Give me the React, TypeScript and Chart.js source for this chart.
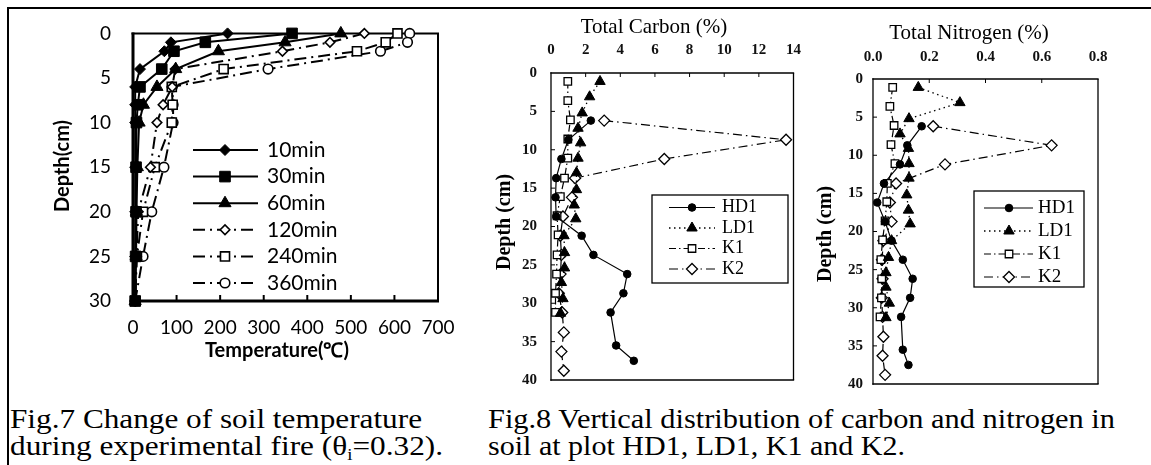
import React, { useEffect, useLayoutEffect, useRef } from 'react';
import { Chart, registerables } from 'chart.js';

Chart.register(...registerables);

const SERIF = '"Liberation Serif", "Times New Roman", serif';
const SANS = 'Lato, "Open Sans", sans-serif';

// ---------------- Fig.7 data (temperature vs depth) ----------------
const TEMP_DEPTHS = [0, 1, 2, 4, 6, 8, 10, 15, 20, 25, 30];
const TEMP_10MIN = [217, 87, 72, 16, 5, 5, 5, 5, 5, 5, 5];
const TEMP_30MIN = [365, 166, 94, 66, 16, 11, 8, 7, 7, 6, 5];
const TEMP_60MIN = [477, 349, 196, 98, 55, 24, 14, 10, 8, 7, 5];
const TEMP_120MIN = [531, 452, 343, 97, 90, 69, 55, 40, 12, 8, 5];
const TEMP_240MIN = [607, 580, 514, 208, 89, 91, 89, 50, 23, 9, 5];
const TEMP_360MIN = [635, 630, 568, 310, 90, 92, 92, 71, 43, 23, 5];
const TEMP_LABELS = ['10min', '30min', '60min', '120min', '240min', '360min'];
const TEMP_VALUES = [TEMP_10MIN, TEMP_30MIN, TEMP_60MIN, TEMP_120MIN, TEMP_240MIN, TEMP_360MIN];

// ---------------- Fig.8 data (carbon / nitrogen vs depth) ----------------
const SOIL_LABELS = ['HD1', 'LD1', 'K1', 'K2'];
const HD1_DEPTHS = [6.2, 8.7, 11.2, 13.7, 16.2, 18.7, 21.2, 23.7, 26.2, 28.7, 31.2, 35.5, 37.5];
const HD1_CARBON = [2.3, 1.0, 0.6, 0.3, 0.26, 0.3, 1.77, 2.45, 4.4, 4.18, 3.44, 3.76, 4.78];
const HD1_NITROGEN = [0.173, 0.122, 0.096, 0.039, 0.015, 0.043, 0.066, 0.106, 0.141, 0.132, 0.1, 0.106, 0.126];
const LD1_DEPTHS = [1.1, 3.1, 5.2, 7.2, 9.1, 11.1, 13.0, 15.2, 17.2, 19.0, 21.2, 23.4, 25.4, 27.3, 29.4, 31.3];
const LD1_CARBON = [2.83, 2.23, 1.8, 1.56, 1.71, 1.56, 1.47, 1.47, 1.34, 1.43, 0.75, 0.78, 0.78, 0.6, 0.69, 0.55];
const LD1_NITROGEN = [0.161, 0.309, 0.128, 0.096, 0.126, 0.128, 0.128, 0.12, 0.126, 0.132, 0.066, 0.055, 0.046, 0.046, 0.058, 0.046];
const K1_DEPTHS = [1.1, 3.6, 6.1, 8.6, 11.1, 13.7, 16.1, 18.6, 21.1, 23.7, 26.2, 28.7, 31.2];
const K1_CARBON = [0.97, 0.97, 1.12, 0.97, 0.97, 0.78, 0.54, 0.35, 0.41, 0.35, 0.32, 0.26, 0.26];
const K1_NITROGEN = [0.07, 0.06, 0.075, 0.064, 0.078, 0.051, 0.049, 0.043, 0.034, 0.028, 0.031, 0.03, 0.025];
const K2_DEPTHS = [6.2, 8.7, 11.2, 13.7, 16.2, 18.7, 21.2, 23.7, 26.2, 28.7, 31.2, 33.8, 36.3, 38.8];
const K2_CARBON = [3.07, 13.57, 6.54, 1.39, 1.21, 0.69, 0.54, 0.6, 0.55, 0.45, 0.65, 0.74, 0.6, 0.74];
const K2_NITROGEN = [0.214, 0.635, 0.256, 0.082, 0.06, 0.066, 0.037, 0.032, 0.034, 0.031, 0.034, 0.037, 0.034, 0.043];

const SOIL_DEPTHS = [HD1_DEPTHS, LD1_DEPTHS, K1_DEPTHS, K2_DEPTHS];
const CARBON_VALUES = [HD1_CARBON, LD1_CARBON, K1_CARBON, K2_CARBON];
const NITROGEN_VALUES = [HD1_NITROGEN, LD1_NITROGEN, K1_NITROGEN, K2_NITROGEN];

// ---------------- styles ----------------
type MStyle = { pointStyle: string; radius: number; fill: string; dash: number[]; lw: number; bw: number };
const TEMP_STYLES: MStyle[] = [
  { pointStyle: 'rectRot', radius: 5.5, fill: '#000', dash: [], lw: 2, bw: 1 },
  { pointStyle: 'rect', radius: 7.5, fill: '#000', dash: [], lw: 2, bw: 1 },
  { pointStyle: 'triangle', radius: 7, fill: '#000', dash: [], lw: 2, bw: 1 },
  { pointStyle: 'rectRot', radius: 4.8, fill: '#fff', dash: [12, 5, 2, 5], lw: 2, bw: 1.6 },
  { pointStyle: 'rect', radius: 6.4, fill: '#fff', dash: [12, 5, 2, 5], lw: 2, bw: 1.6 },
  { pointStyle: 'circle', radius: 4.8, fill: '#fff', dash: [12, 5, 2, 5], lw: 2, bw: 1.6 },
];
const SOIL_STYLES: MStyle[] = [
  { pointStyle: 'circle', radius: 3.8, fill: '#000', dash: [], lw: 1.2, bw: 1 },
  { pointStyle: 'triangle', radius: 6, fill: '#000', dash: [1.5, 3.5], lw: 1.3, bw: 1 },
  { pointStyle: 'rect', radius: 5.3, fill: '#fff', dash: [7, 3, 1.5, 3], lw: 1.2, bw: 1.3 },
  { pointStyle: 'rectRot', radius: 5.5, fill: '#fff', dash: [9, 4, 1.5, 4], lw: 1.2, bw: 1.3 },
];

function marker(ctx: CanvasRenderingContext2D, s: MStyle, x: number, y: number) {
  const r = s.radius;
  ctx.save();
  ctx.setLineDash([]);
  ctx.beginPath();
  if (s.pointStyle === 'circle') ctx.arc(x, y, r, 0, Math.PI * 2);
  else if (s.pointStyle === 'rect') {
    const h = r * Math.SQRT1_2;
    ctx.rect(x - h, y - h, 2 * h, 2 * h);
  } else if (s.pointStyle === 'rectRot') {
    ctx.moveTo(x - r, y); ctx.lineTo(x, y - r); ctx.lineTo(x + r, y); ctx.lineTo(x, y + r); ctx.closePath();
  } else {
    let a = 0;
    ctx.moveTo(x + Math.sin(a) * r, y - Math.cos(a) * r);
    a += (2 * Math.PI) / 3;
    ctx.lineTo(x + Math.sin(a) * r, y - Math.cos(a) * r);
    a += (2 * Math.PI) / 3;
    ctx.lineTo(x + Math.sin(a) * r, y - Math.cos(a) * r);
    ctx.closePath();
  }
  ctx.fillStyle = s.fill;
  ctx.fill();
  ctx.lineWidth = s.bw;
  ctx.strokeStyle = '#000';
  ctx.stroke();
  ctx.restore();
}

type Annot = {
  frame: { top: number; right: number; bottom: number; left: number };
  xTicks: { values: number[]; len: number; width: number; side: 'top' | 'bottom' };
  yTicks?: { values: number[]; len: number; width: number };
  titles: { text: string; x: number; y: number; rot: number; font: string }[];
  legend: {
    box?: [number, number, number, number];
    x1: number; x2: number; xm: number; xt: number; ys: number[]; font: string;
    items: { label: string; style: MStyle }[];
  };
};

function annotPlugin(a: Annot) {
  return {
    id: 'annot',
    beforeDatasetsDraw(chart: any) {
      const ctx: CanvasRenderingContext2D = chart.ctx;
      const ca = chart.chartArea;
      ctx.save();
      ctx.strokeStyle = '#000';
      ctx.setLineDash([]);
      const seg = (x1: number, y1: number, x2: number, y2: number, w: number) => {
        ctx.lineWidth = w; ctx.beginPath(); ctx.moveTo(x1, y1); ctx.lineTo(x2, y2); ctx.stroke();
      };
      const f = a.frame;
      seg(ca.left - f.left / 2, ca.top, ca.right + f.right / 2, ca.top, f.top);
      seg(ca.right, ca.top, ca.right, ca.bottom, f.right);
      seg(ca.left - f.left / 2, ca.bottom, ca.right + f.right / 2, ca.bottom, f.bottom);
      seg(ca.left, ca.top - f.top / 2, ca.left, ca.bottom + f.bottom / 2, f.left);
      const xs = chart.scales.x;
      const ys = chart.scales.y;
      for (const v of a.xTicks.values) {
        const px = xs.getPixelForValue(v);
        if (a.xTicks.side === 'bottom') seg(px, ca.bottom, px, ca.bottom - a.xTicks.len, a.xTicks.width);
        else seg(px, ca.top, px, ca.top + a.xTicks.len, a.xTicks.width);
      }
      if (a.yTicks) {
        for (const v of a.yTicks.values) {
          const py = ys.getPixelForValue(v);
          seg(ca.left, py, ca.left + a.yTicks.len, py, a.yTicks.width);
        }
      }
      ctx.restore();
    },
    afterDraw(chart: any) {
      const ctx: CanvasRenderingContext2D = chart.ctx;
      ctx.save();
      ctx.fillStyle = '#000';
      for (const t of a.titles) {
        ctx.save();
        ctx.translate(t.x, t.y);
        ctx.rotate(t.rot);
        ctx.font = t.font;
        ctx.textAlign = 'center';
        ctx.textBaseline = 'middle';
        ctx.fillText(t.text, 0, 0);
        ctx.restore();
      }
      const L = a.legend;
      if (L.box) {
        ctx.setLineDash([]);
        ctx.lineWidth = 1.3;
        ctx.strokeStyle = '#000';
        ctx.fillStyle = '#fff';
        const [l, t, r, b] = L.box;
        ctx.fillRect(l, t, r - l, b - t);
        ctx.strokeRect(l, t, r - l, b - t);
      }
      L.items.forEach((it, i) => {
        const y = L.ys[i];
        ctx.save();
        ctx.strokeStyle = '#000';
        ctx.lineWidth = it.style.lw;
        ctx.setLineDash(it.style.dash);
        ctx.beginPath(); ctx.moveTo(L.x1, y); ctx.lineTo(L.x2, y); ctx.stroke();
        ctx.restore();
        marker(ctx, it.style, L.xm, y);
        ctx.fillStyle = '#000';
        ctx.font = L.font;
        ctx.textAlign = 'left';
        ctx.textBaseline = 'middle';
        ctx.fillText(it.label, L.xt, y);
      });
      ctx.restore();
    },
  };
}

function dataset(label: string, xs: number[], ys: number[], s: MStyle) {
  return {
    label,
    data: ys.map((d, j) => ({ x: xs[j], y: d })),
    showLine: true,
    borderColor: '#000',
    borderWidth: s.lw,
    borderDash: s.dash,
    pointStyle: s.pointStyle,
    pointRadius: s.radius,
    pointHoverRadius: s.radius,
    pointBackgroundColor: s.fill,
    pointBorderColor: '#000',
    pointBorderWidth: s.bw,
    clip: false,
    tension: 0,
  };
}

type Box = { left: number; top: number; width: number; height: number };

function buildTemp(b: Box) {
  const area = { l: 133, t: 23, r: 438, b: 301 };
  const ox = b.left, oy = b.top;
  const tickFont = { family: SANS, size: 19 };
  return {
    type: 'scatter',
    data: {
      datasets: TEMP_LABELS.map((name, i) => dataset(name, TEMP_VALUES[i], TEMP_DEPTHS, TEMP_STYLES[i])),
    },
    options: {
      responsive: false,
      animation: false,
      devicePixelRatio: 1,
      layout: { padding: { left: 0, top: area.t - oy, right: ox + b.width - area.r, bottom: 0 } },
      plugins: { legend: { display: false }, tooltip: { enabled: false } },
      events: [],
      scales: {
        x: {
          type: 'linear', position: 'bottom', min: 0, max: 700,
          ticks: { stepSize: 100, padding: 15, font: tickFont, color: '#000', maxRotation: 0, autoSkip: false },
          grid: { display: false, drawTicks: false },
          border: { display: false },
          afterFit: (s: any) => { s.height = oy + b.height - area.b; },
        },
        y: {
          type: 'linear', min: 0, max: 30, reverse: true,
          ticks: { stepSize: 5, padding: 22, font: tickFont, color: '#000', autoSkip: false },
          grid: { display: false, drawTicks: false },
          border: { display: false },
          afterFit: (s: any) => { s.width = area.l - ox; },
        },
      },
    },
    plugins: [
      annotPlugin({
        frame: { top: 2, right: 2, bottom: 3, left: 3 },
        xTicks: { values: [100, 200, 300, 400, 500, 600], len: 6, width: 2, side: 'bottom' },
        titles: [
          { text: 'Temperature(\u2103)', x: 277 - ox, y: 351 - oy, rot: 0, font: `bold 20px ${SANS}` },
          { text: 'Depth(cm)', x: 63 - ox, y: 166 - oy, rot: -Math.PI / 2, font: `bold 20px ${SANS}` },
        ],
        legend: {
          x1: 193 - ox, x2: 258 - ox, xm: 225 - ox, xt: 267 - ox,
          ys: [150, 176.6, 203.2, 229.8, 256.4, 283].map((v) => v - oy),
          font: `21px ${SANS}`,
          items: TEMP_LABELS.map((l, i) => ({ label: l, style: TEMP_STYLES[i] })),
        },
      }),
    ],
  };
}

type SoilCfg = {
  area: { l: number; t: number; r: number; b: number };
  xmax: number; xstep: number; decimals: number;
  xPad: number; yPad: number;
  values: number[][];
  xTitle: string; xTitlePos: [number, number];
  yTitlePos: [number, number];
  xTickVals: number[];
  legend: { box: [number, number, number, number]; x1: number; x2: number; xm: number; xt: number; ys: number[]; size: number };
};

function buildSoil(b: Box, c: SoilCfg) {
  const ox = b.left, oy = b.top;
  const a = c.area;
  const tickFont = { family: SERIF, size: 15, weight: 'bold' };
  return {
    type: 'scatter',
    data: {
      datasets: SOIL_LABELS.map((name, i) => dataset(name, c.values[i], SOIL_DEPTHS[i], SOIL_STYLES[i])),
    },
    options: {
      responsive: false,
      animation: false,
      devicePixelRatio: 1,
      layout: { padding: { left: 0, top: 0, right: ox + b.width - a.r, bottom: oy + b.height - a.b } },
      plugins: { legend: { display: false }, tooltip: { enabled: false } },
      events: [],
      scales: {
        x: {
          type: 'linear', position: 'top', min: 0, max: c.xmax,
          ticks: {
            stepSize: c.xstep, padding: c.xPad, font: tickFont, color: '#111', maxRotation: 0, autoSkip: false,
            callback: (v: number) => v.toFixed(c.decimals),
          },
          grid: { display: false, drawTicks: false },
          border: { display: false },
          afterFit: (s: any) => { s.height = a.t - oy; },
        },
        y: {
          type: 'linear', min: 0, max: 40, reverse: true,
          ticks: { stepSize: 5, padding: c.yPad, font: tickFont, color: '#111', autoSkip: false },
          grid: { display: false, drawTicks: false },
          border: { display: false },
          afterFit: (s: any) => { s.width = a.l - ox; },
        },
      },
    },
    plugins: [
      annotPlugin({
        frame: { top: 1.3, right: 1.3, bottom: 1.3, left: 1.3 },
        xTicks: { values: c.xTickVals, len: 4, width: 1, side: 'top' },
        yTicks: { values: [5, 10, 15, 20, 25, 30, 35], len: 4, width: 1 },
        titles: [
          { text: c.xTitle, x: c.xTitlePos[0] - ox, y: c.xTitlePos[1] - oy, rot: 0, font: `21px ${SERIF}` },
          { text: 'Depth (cm)', x: c.yTitlePos[0] - ox, y: c.yTitlePos[1] - oy, rot: -Math.PI / 2, font: `bold 20px ${SERIF}` },
        ],
        legend: {
          box: [c.legend.box[0] - ox, c.legend.box[1] - oy, c.legend.box[2] - ox, c.legend.box[3] - oy],
          x1: c.legend.x1 - ox, x2: c.legend.x2 - ox, xm: c.legend.xm - ox, xt: c.legend.xt - ox,
          ys: c.legend.ys.map((v) => v - oy),
          font: `${c.legend.size}px ${SERIF}`,
          items: SOIL_LABELS.map((l, i) => ({ label: l, style: SOIL_STYLES[i] })),
        },
      }),
    ],
  };
}

function ChartBox({ box, build }: { box: Box; build: (b: Box) => any }) {
  const ref = useRef<HTMLCanvasElement>(null);
  useEffect(() => {
    const chart = new Chart(ref.current as HTMLCanvasElement, build(box) as any);
    return () => chart.destroy();
  }, []);
  return (
    <div style={{ position: 'absolute', left: box.left, top: box.top, width: box.width, height: box.height }}>
      <canvas ref={ref} width={box.width} height={box.height} style={{ display: 'block', width: box.width, height: box.height }} />
    </div>
  );
}

function FitLine({ left, top, width, size, children }: { left: number; top: number; width: number; size: number; children: React.ReactNode }) {
  const ref = useRef<HTMLSpanElement>(null);
  useLayoutEffect(() => {
    const el = ref.current;
    if (!el) return;
    el.style.transform = 'none';
    const w = el.getBoundingClientRect().width;
    if (w > 0) el.style.transform = `scaleX(${width / w})`;
  }, []);
  return (
    <span
      ref={ref}
      style={{
        position: 'absolute', left, top, fontFamily: SERIF, fontSize: size, lineHeight: 1,
        whiteSpace: 'nowrap', transformOrigin: '0 0', color: '#000',
      }}
    >
      {children}
    </span>
  );
}

const TEMP_BOX: Box = { left: 0, top: 0, width: 470, height: 370 };
const CARBON_BOX: Box = { left: 470, top: 0, width: 345, height: 403 };
const NITRO_BOX: Box = { left: 815, top: 0, width: 336, height: 403 };

const CARBON_CFG: SoilCfg = {
  area: { l: 551, t: 73, r: 802, b: 393 },
  xmax: 14, xstep: 2, decimals: 0, xPad: 14, yPad: 14,
  values: CARBON_VALUES,
  xTitle: 'Total Carbon (%)', xTitlePos: [654, 27],
  yTitlePos: [505, 222],
  xTickVals: [2, 4, 6, 8, 10, 12],
  legend: { box: [652, 195, 788, 283], x1: 669, x2: 715, xm: 692, xt: 722, ys: [207.5, 228, 248.5, 269], size: 18 },
};
const NITRO_CFG: SoilCfg = {
  area: { l: 873, t: 79, r: 1098, b: 391 },
  xmax: 0.8, xstep: 0.2, decimals: 1, xPad: 13, yPad: 10,
  values: NITROGEN_VALUES,
  xTitle: 'Total Nitrogen (%)', xTitlePos: [969, 33],
  yTitlePos: [826, 234],
  xTickVals: [0.2, 0.4, 0.6],
  legend: { box: [974, 191, 1084, 287], x1: 984, x2: 1033, xm: 1009, xt: 1038, ys: [208, 231, 254, 277], size: 19 },
};

export default function App() {
  const S = 27;
  const off = S * 0.8375;
  return (
    <div style={{ position: 'fixed', left: 0, top: 0, width: 1151, height: 465, background: '#fff', overflow: 'hidden' }}>
      <div style={{ position: 'absolute', left: 7, top: 7, width: 1144, height: 2, background: '#000' }} />
      <div style={{ position: 'absolute', left: 7, top: 7, width: 2, height: 458, background: '#000' }} />
      <ChartBox box={TEMP_BOX} build={buildTemp} />
      <ChartBox box={CARBON_BOX} build={(b) => buildSoil(b, CARBON_CFG)} />
      <ChartBox box={NITRO_BOX} build={(b) => buildSoil(b, NITRO_CFG)} />
      <FitLine left={10} top={429 - off} width={412} size={S}>Fig.7 Change of soil temperature</FitLine>
      <FitLine left={10} top={456 - off} width={433} size={S}>
        during experimental fire (θ<span style={{ fontSize: '0.6em', position: 'relative', top: '0.3em' }}>i</span>=0.32).
      </FitLine>
      <FitLine left={488} top={429 - off} width={627} size={S}>Fig.8 Vertical distribution of carbon and nitrogen in</FitLine>
      <FitLine left={488} top={456 - off} width={417} size={S}>soil at plot HD1, LD1, K1 and K2.</FitLine>
    </div>
  );
}
